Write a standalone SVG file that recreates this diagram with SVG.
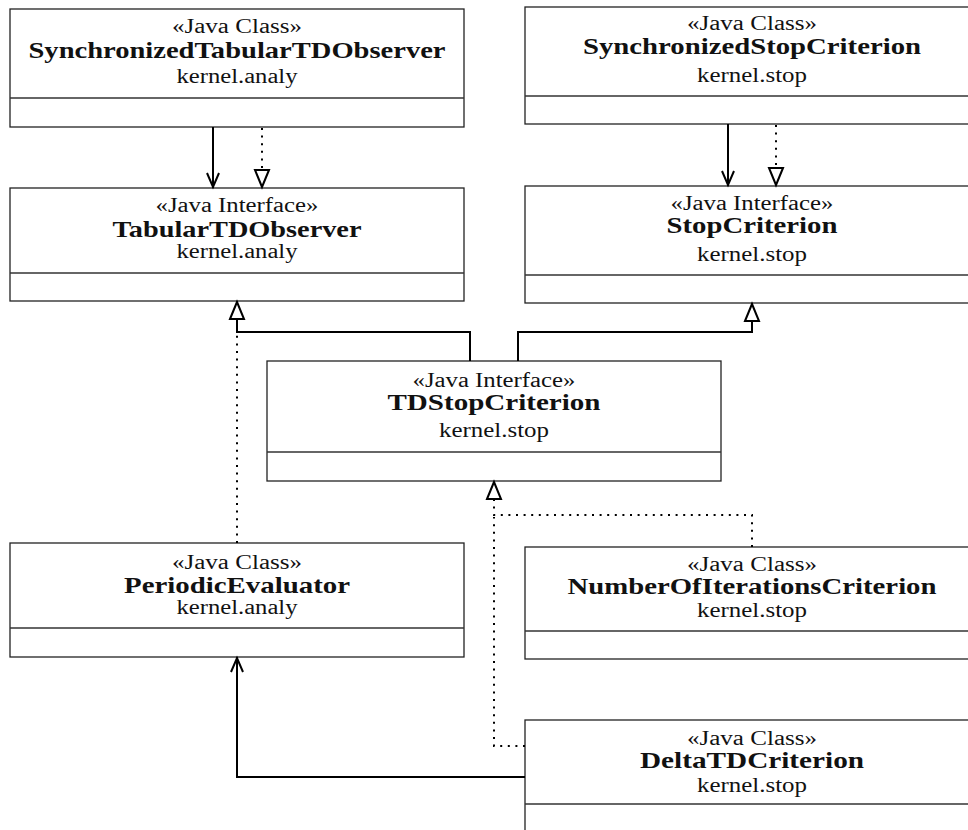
<svg xmlns="http://www.w3.org/2000/svg" width="968" height="830" viewBox="0 0 968 830">
<style>
  .box { fill: #ffffff; stroke: #222222; stroke-width: 1.3; }
  .sep { stroke: #333333; stroke-width: 1.3; }
  text { font-family: "Liberation Serif", "Times New Roman", serif; fill: #111111; text-anchor: middle; }
  .st { font-size: 20px; }
  .nm { font-size: 24px; font-weight: bold; }
  .pk { font-size: 20px; }
  .solid { fill: none; stroke: #000000; stroke-width: 2; }
  .dot { fill: none; stroke: #000000; stroke-width: 2; stroke-dasharray: 2 5.6; }
</style>
<defs>
  <marker id="tri" markerUnits="userSpaceOnUse" viewBox="-2 -10 24 20" markerWidth="24" markerHeight="20" refX="18" refY="0" orient="auto">
    <path d="M0,-7 L17,0 L0,7 Z" fill="#ffffff" stroke="#000000" stroke-width="2" stroke-dasharray="none"/>
  </marker>
  <marker id="open" markerUnits="userSpaceOnUse" viewBox="-2 -10 24 20" markerWidth="24" markerHeight="20" refX="16" refY="0" orient="auto">
    <path d="M1,-6 L15,0 L1,6" fill="none" stroke="#000000" stroke-width="2" stroke-dasharray="none"/>
  </marker>
</defs>

<g id="n-SynchronizedTabularTDObserver">
  <rect class="box" x="10" y="9" width="454" height="118"/>
  <line class="sep" x1="10" y1="98" x2="464" y2="98"/>
  <text class="st" x="237" y="33" textLength="130" lengthAdjust="spacingAndGlyphs">«Java Class»</text>
  <text class="nm" x="237" y="58" textLength="417" lengthAdjust="spacingAndGlyphs">SynchronizedTabularTDObserver</text>
  <text class="pk" x="237" y="83" textLength="121" lengthAdjust="spacingAndGlyphs">kernel.analy</text>
</g>

<g id="n-TabularTDObserver">
  <rect class="box" x="10" y="188" width="454" height="113"/>
  <line class="sep" x1="10" y1="273" x2="464" y2="273"/>
  <text class="st" x="237" y="212" textLength="163" lengthAdjust="spacingAndGlyphs">«Java Interface»</text>
  <text class="nm" x="237" y="237" textLength="249" lengthAdjust="spacingAndGlyphs">TabularTDObserver</text>
  <text class="pk" x="237" y="258" textLength="121" lengthAdjust="spacingAndGlyphs">kernel.analy</text>
</g>

<g id="n-SynchronizedStopCriterion">
  <rect class="box" x="525" y="7" width="454" height="117"/>
  <line class="sep" x1="525" y1="96" x2="979" y2="96"/>
  <text class="st" x="752" y="30" textLength="130" lengthAdjust="spacingAndGlyphs">«Java Class»</text>
  <text class="nm" x="752" y="54" textLength="338" lengthAdjust="spacingAndGlyphs">SynchronizedStopCriterion</text>
  <text class="pk" x="752" y="82" textLength="110" lengthAdjust="spacingAndGlyphs">kernel.stop</text>
</g>

<g id="n-StopCriterion">
  <rect class="box" x="525" y="186" width="454" height="117"/>
  <line class="sep" x1="525" y1="275" x2="979" y2="275"/>
  <text class="st" x="752" y="210" textLength="163" lengthAdjust="spacingAndGlyphs">«Java Interface»</text>
  <text class="nm" x="752" y="233" textLength="171" lengthAdjust="spacingAndGlyphs">StopCriterion</text>
  <text class="pk" x="752" y="261" textLength="110" lengthAdjust="spacingAndGlyphs">kernel.stop</text>
</g>

<g id="n-TDStopCriterion">
  <rect class="box" x="267" y="361" width="454" height="120"/>
  <line class="sep" x1="267" y1="452" x2="721" y2="452"/>
  <text class="st" x="494" y="387" textLength="163" lengthAdjust="spacingAndGlyphs">«Java Interface»</text>
  <text class="nm" x="494" y="410" textLength="213" lengthAdjust="spacingAndGlyphs">TDStopCriterion</text>
  <text class="pk" x="494" y="437" textLength="110" lengthAdjust="spacingAndGlyphs">kernel.stop</text>
</g>

<g id="n-PeriodicEvaluator">
  <rect class="box" x="10" y="543" width="454" height="114"/>
  <line class="sep" x1="10" y1="628" x2="464" y2="628"/>
  <text class="st" x="237" y="569" textLength="130" lengthAdjust="spacingAndGlyphs">«Java Class»</text>
  <text class="nm" x="237" y="593" textLength="226" lengthAdjust="spacingAndGlyphs">PeriodicEvaluator</text>
  <text class="pk" x="237" y="614" textLength="121" lengthAdjust="spacingAndGlyphs">kernel.analy</text>
</g>

<g id="n-NumberOfIterationsCriterion">
  <rect class="box" x="525" y="547" width="454" height="112"/>
  <line class="sep" x1="525" y1="631" x2="979" y2="631"/>
  <text class="st" x="752" y="571" textLength="130" lengthAdjust="spacingAndGlyphs">«Java Class»</text>
  <text class="nm" x="752" y="594" textLength="369" lengthAdjust="spacingAndGlyphs">NumberOfIterationsCriterion</text>
  <text class="pk" x="752" y="617" textLength="110" lengthAdjust="spacingAndGlyphs">kernel.stop</text>
</g>

<g id="n-DeltaTDCriterion">
  <rect class="box" x="525" y="720" width="454" height="130"/>
  <line class="sep" x1="525" y1="804" x2="979" y2="804"/>
  <text class="st" x="752" y="745" textLength="130" lengthAdjust="spacingAndGlyphs">«Java Class»</text>
  <text class="nm" x="752" y="768" textLength="224" lengthAdjust="spacingAndGlyphs">DeltaTDCriterion</text>
  <text class="pk" x="752" y="792" textLength="110" lengthAdjust="spacingAndGlyphs">kernel.stop</text>
</g>

<g id="connectors">
  <path class="solid" d="M213,127 L213,188" marker-end="url(#open)"/>
  <path class="dot" d="M262,128 L262,188" marker-end="url(#tri)"/>
  <path class="solid" d="M728,124 L728,186" marker-end="url(#open)"/>
  <path class="dot" d="M776,125 L776,186" marker-end="url(#tri)"/>
  <path class="dot" d="M237,543 L237,334"/>
  <path class="solid" d="M470,361 L470,332 L237,332 L237,301" marker-end="url(#tri)"/>
  <path class="solid" d="M518,361 L518,332 L752,332 L752,303" marker-end="url(#tri)"/>
  <path class="dot" d="M525,746 L494,746 L494,517"/>
  <path class="dot" d="M752,547 L752,515 L494,515 L494,481" marker-end="url(#tri)"/>
  <path class="solid" d="M525,777 L237,777 L237,657" marker-end="url(#open)"/>
</g>
</svg>
